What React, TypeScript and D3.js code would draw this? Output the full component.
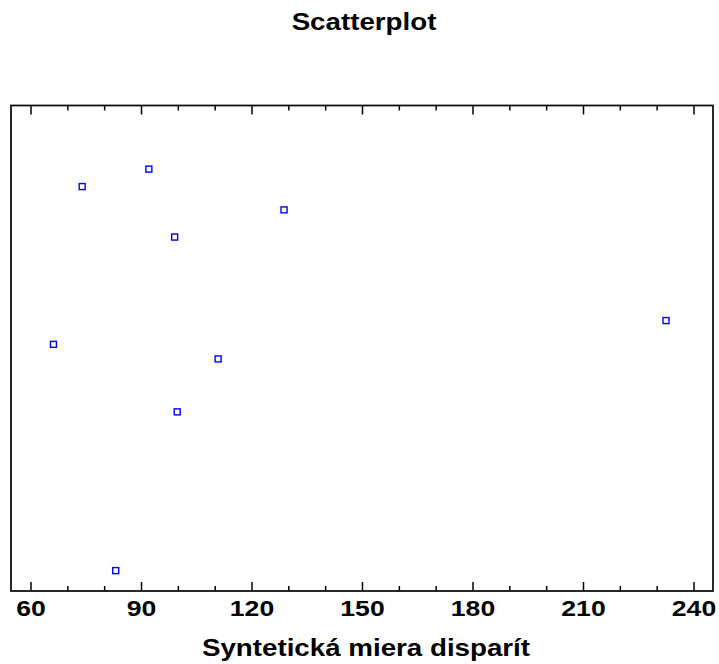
import * as d3 from 'd3'

// values
const xValues = [73.9, 92.0, 128.7, 99.0, 232.4, 66.1, 110.8, 99.7, 83.0]
// vertical position of each point (jitter, 0 = bottom, 100 = top)
const yJitter = [83.3, 86.9, 78.5, 72.9, 55.7, 50.8, 47.8, 36.9, 4.2]
const majorTicks = [60, 90, 120, 150, 180, 210, 240]
const minorTicks = [70, 80, 100, 110, 130, 140, 160, 170, 190, 200, 220, 230]

const title = 'Scatterplot'
const xLabel = 'Syntetická miera disparít'

const width = 719
const height = 664
const box = { left: 11, right: 713, top: 105.5, bottom: 591 }
const stretch = 1.18
const font = '"Liberation Sans", Arial, sans-serif'

export default function App() {
  const x = d3.scaleLinear().domain([60, 240]).range([31, 694])
  const y = d3.scaleLinear().domain([0, 100]).range([box.bottom, box.top])

  const stretchedText = (tx: number, ty: number, text: string, size: number, key?: string) => (
    <text
      key={key}
      transform={`translate(${tx},${ty}) scale(${stretch},1)`}
      textAnchor="middle"
      fontFamily={font}
      fontWeight="bold"
      fontSize={size}
      fill="#000"
    >
      {text}
    </text>
  )

  return (
    <svg
      width={width}
      height={height}
      style={{ position: 'absolute', left: 0, top: 0, background: '#fff' }}
    >
      {stretchedText(364, 30, title, 23.5)}

      {/* minor ticks */}
      {minorTicks.map((t) => (
        <g key={'mi' + t} stroke="#000" strokeWidth={1.5}>
          <line x1={x(t)} x2={x(t)} y1={box.bottom} y2={box.bottom - 5} />
          <line x1={x(t)} x2={x(t)} y1={box.top} y2={box.top + 5} />
        </g>
      ))}
      {/* major ticks */}
      {majorTicks.map((t) => (
        <g key={'ma' + t} stroke="#000" strokeWidth={1.5}>
          <line x1={x(t)} x2={x(t)} y1={box.bottom} y2={box.bottom - 9} />
          <line x1={x(t)} x2={x(t)} y1={box.top} y2={box.top + 9} />
        </g>
      ))}

      <rect
        x={box.left}
        y={box.top}
        width={box.right - box.left}
        height={box.bottom - box.top}
        fill="none"
        stroke="#111"
        strokeWidth={1.8}
      />

      {majorTicks.map((t) => stretchedText(x(t), 616, String(t), 22.5, 'lb' + t))}

      {stretchedText(366, 656, xLabel, 23.5)}

      {xValues.map((v, i) => (
        <rect
          key={i}
          x={x(v) - 3}
          y={y(yJitter[i]) - 3}
          width={6}
          height={6}
          fill="#fff"
          stroke="#0000ff"
          strokeWidth={1.4}
        />
      ))}
    </svg>
  )
}
